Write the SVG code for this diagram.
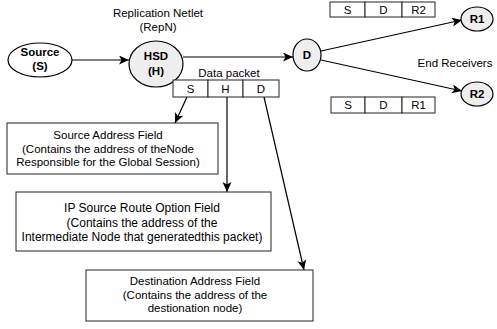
<svg xmlns="http://www.w3.org/2000/svg" width="497" height="329" viewBox="0 0 497 329">
<style>
text{font-family:"Liberation Sans",Arial,sans-serif;font-size:11.5px;fill:#000;text-anchor:middle;dominant-baseline:central}
.b{font-weight:bold}
.big{font-size:12px}
.node{stroke:#000;stroke-width:1.2}
.white{fill:#fff}
.grey{fill:#eeeeee}
.box{fill:#fff;stroke:#222;stroke-width:1}
.cell{fill:#fff;stroke:#222;stroke-width:1}
.c{fill:none;stroke:#000;stroke-width:1.2}
</style>
<defs>
<marker id="ah" markerUnits="userSpaceOnUse" markerWidth="12" markerHeight="10" refX="10" refY="4.5" orient="auto">
<path d="M0,0 L10,4.5 L0,9 L2.5,4.5 z" fill="#000"/>
</marker>
</defs>
<g id="connectors">
<line class="c" x1="72" y1="60" x2="129" y2="60" marker-end="url(#ah)"/>
<line class="c" x1="183" y1="57" x2="293" y2="57" marker-end="url(#ah)"/>
<line class="c" x1="321" y1="51" x2="462" y2="20" marker-end="url(#ah)"/>
<line class="c" x1="321" y1="60" x2="462" y2="91" marker-end="url(#ah)"/>
<line class="c" x1="187" y1="97" x2="175" y2="123" marker-end="url(#ah)"/>
<line class="c" x1="227" y1="97" x2="227" y2="192" marker-end="url(#ah)"/>
<line class="c" x1="264" y1="97" x2="304" y2="270" marker-end="url(#ah)"/>
</g>
<g id="label-repn">
<text x="158" y="13">Replication Netlet</text>
<text x="158" y="27">(RepN)</text>
</g>
<g id="node-source">
<ellipse class="node white" cx="40" cy="60" rx="32" ry="17"/>
<text class="b" x="40" y="52">Source</text>
<text class="b" x="40" y="66">(S)</text>
</g>
<g id="node-hsd">
<ellipse class="node grey" cx="156" cy="64" rx="27" ry="23"/>
<text class="b" x="156" y="56">HSD</text>
<text class="b" x="156" y="71">(H)</text>
</g>
<g id="node-d">
<ellipse class="node grey" cx="307" cy="55" rx="14" ry="16"/>
<text class="b" x="307" y="55">D</text>
</g>
<g id="node-r1">
<ellipse class="node grey" cx="477" cy="19" rx="16" ry="12"/>
<text class="b" x="477" y="19">R1</text>
</g>
<g id="node-r2">
<ellipse class="node grey" cx="477" cy="94" rx="16" ry="12"/>
<text class="b" x="477" y="94">R2</text>
</g>
<g id="label-end">
<text x="455" y="63">End Receivers</text>
</g>
<g id="packet-top">
<rect class="cell" x="330" y="2" width="35" height="15"/>
<rect class="cell" x="365" y="2" width="37" height="15"/>
<rect class="cell" x="402" y="2" width="33" height="15"/>
<text x="347.5" y="9.5">S</text>
<text x="383.5" y="9.5">D</text>
<text x="418.5" y="9.5">R2</text>
</g>
<g id="packet-bottom">
<rect class="cell" x="331" y="97" width="34" height="16"/>
<rect class="cell" x="365" y="97" width="37" height="16"/>
<rect class="cell" x="402" y="97" width="33" height="16"/>
<text x="348" y="105">S</text>
<text x="383.5" y="105">D</text>
<text x="418.5" y="105">R1</text>
</g>
<g id="data-packet">
<text x="229" y="73">Data packet</text>
<rect class="cell" x="173" y="80" width="35" height="17"/>
<rect class="cell" x="208" y="80" width="35" height="17"/>
<rect class="cell" x="243" y="80" width="36" height="17"/>
<text x="190.5" y="88.5">S</text>
<text x="225.5" y="88.5">H</text>
<text x="261" y="88.5">D</text>
</g>
<g id="box-source">
<rect class="box" x="7" y="123" width="211" height="51"/>
<text x="108" y="135">Source Address Field</text>
<text x="108" y="148.5">(Contains the address of theNode</text>
<text x="108" y="162">Responsible for the Global Session)</text>
</g>
<g id="box-ip">
<rect class="box" x="16" y="192" width="255" height="59"/>
<text class="big" x="142" y="208">IP Source Route Option Field</text>
<text class="big" x="142" y="222.5">(Contains the address of the</text>
<text class="big" x="142" y="237">Intermediate Node that generatedthis packet)</text>
</g>
<g id="box-dest">
<rect class="box" x="86" y="270" width="227" height="51"/>
<text x="195" y="281">Destination Address Field</text>
<text x="195" y="294.5">(Contains the address of the</text>
<text x="195" y="308">destionation node)</text>
</g>
</svg>
